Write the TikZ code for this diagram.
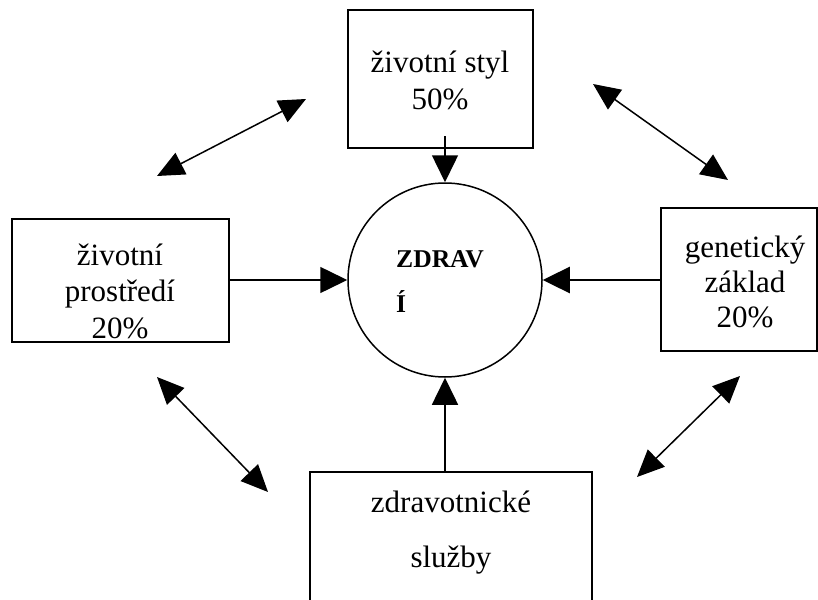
\documentclass[tikz,border=0pt]{standalone}
\usepackage{fontspec}
\setmainfont{Liberation Serif}
\usetikzlibrary{arrows.meta}
\begin{document}
\begin{tikzpicture}[x=1pt,y=-1pt,
  box/.style={draw,line width=1.5pt,rectangle,inner sep=0pt,anchor=center},
  txt/.style={anchor=base,inner sep=0pt,font=\fontsize{31}{36}\selectfont},
  btxt/.style={anchor=base west,inner sep=0pt,font=\fontsize{25.6}{30}\selectfont\bfseries},
  conn/.style={line width=1.5pt,-{Triangle[length=27pt,width=26pt]}},
  dbl/.style={line width=1.5pt,{Triangle[length=27pt,width=24pt]}-{Triangle[length=27pt,width=24pt]}}]
\useasboundingbox (0,0) rectangle (818,599);
\clip (0,0) rectangle (818,599);
% boxes
\node[box,minimum width=185pt,minimum height=138pt] (top) at (440.5,79) {};
\node[box,minimum width=217pt,minimum height=123pt] (left) at (120.5,280.5) {};
\node[box,minimum width=156pt,minimum height=143pt] (right) at (739,279.5) {};
\node[box,minimum width=282pt,minimum height=148pt] (bottom) at (451,546) {};
\node[draw,circle,line width=1.5pt,minimum size=194pt,inner sep=0pt] (circ) at (445,280) {};
% texts
\node[txt] (t1) at (440,73) {životní styl};
\node[txt] (t2) at (440,110) {50\%};
\node[txt] (l1) at (120,265) {životní};
\node[txt] (l2) at (120,301.5) {prostředí};
\node[txt] (l3) at (120,338) {20\%};
\node[txt] (r1) at (745,257) {genetický};
\node[txt] (r2) at (745,292) {základ};
\node[txt] (r3) at (745,327) {20\%};
\node[txt] (b1) at (451,512) {zdravotnické};
\node[txt] (b2) at (451,567) {služby};
\node[btxt] (c1) at (396,267) {ZDRAV};
\node[btxt] (c2) at (396,312) {Í};
% connectors
\coordinate (tstart) at (445,136);
\draw[conn] (tstart) -- (circ.north);
\draw[conn] (left.east |- circ.west) -- (circ.west);
\draw[conn,line width=2.5pt] (right.west |- circ.east) -- (circ.east);
\draw[conn] (bottom.north -| circ.south) -- (circ.south);
% diagonal double arrows
\coordinate (a1) at (157,176);
\coordinate (a2) at (306,99);
\coordinate (b1p) at (593,84);
\coordinate (b2p) at (728,180);
\coordinate (c1p) at (157,377);
\coordinate (c2p) at (268,492);
\coordinate (d1) at (740,376);
\coordinate (d2) at (637,477);
\draw[dbl] (a1) -- (a2);
\draw[dbl] (b1p) -- (b2p);
\draw[dbl] (c1p) -- (c2p);
\draw[dbl] (d1) -- (d2);
\end{tikzpicture}
\end{document}
